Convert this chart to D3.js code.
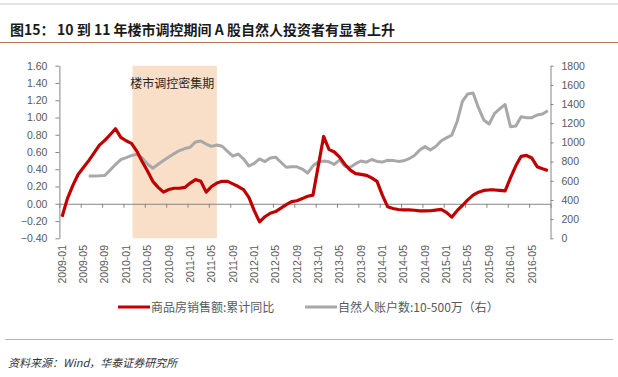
<!DOCTYPE html>
<html>
<head>
<meta charset="utf-8">
<script src="https://cdn.jsdelivr.net/npm/d3@7"></script>
<style>
  body { margin: 0; background: #fff; }
  text { font-family: "Liberation Sans", "Noto Sans CJK SC", sans-serif; }
  .cjk { font-family: "Noto Sans CJK SC", sans-serif; }
</style>
</head>
<body>
<div id="viz"></div>
<script>
// monthly categories 2009-01 .. 2016-08
const months = d3.timeMonths(new Date(2009, 0, 1), new Date(2016, 8, 1)).map(d3.timeFormat("%Y-%m"));

// 商品房销售额:累计同比 (left axis)
const salesYoY = [
  -0.15, 0.06, 0.21, 0.34, 0.42, 0.50, 0.59, 0.68, 0.735, 0.80, 0.87, 0.77,
  0.73, 0.70, 0.61, 0.49, 0.38, 0.26, 0.19, 0.135, 0.165, 0.18, 0.18, 0.19,
  0.24, 0.28, 0.26, 0.135, 0.20, 0.24, 0.26, 0.26, 0.23, 0.20, 0.165, 0.075,
  -0.08, -0.21, -0.15, -0.11, -0.09, -0.05, -0.01, 0.025, 0.035, 0.06, 0.087, 0.10,
  0.44, 0.78, 0.63, 0.60, 0.54, 0.455, 0.39, 0.35, 0.34, 0.33, 0.30, 0.26,
  0.10, -0.035, -0.055, -0.066, -0.07, -0.07, -0.075, -0.082, -0.083, -0.081, -0.073, -0.065,
  -0.10, -0.155, -0.08, -0.02, 0.045, 0.10, 0.134, 0.155, 0.16, 0.16, 0.155, 0.15,
  0.30, 0.44, 0.55, 0.56, 0.53, 0.43, 0.405, 0.385
];

// 自然人账户数:10-500万 (right axis)
const accounts = [
  null, null, null, null, null, 650, 651, 652, 655, 711, 769, 820,
  842, 862, 877, 838, 775, 731, 772, 811, 848, 883, 915, 936,
  949, 1005, 1014, 983, 959, 973, 960, 907, 858, 878, 829, 754,
  782, 828, 800, 838, 846, 793, 741, 745, 745, 722, 680, 756,
  796, 805, 798, 771, 818, 750, 742, 778, 806, 794, 822, 802,
  795, 814, 812, 802, 808, 830, 863, 920, 956, 921, 957, 1014,
  1048, 1076, 1216, 1428, 1505, 1515, 1362, 1234, 1192, 1300, 1351, 1395,
  1164, 1172, 1267, 1258, 1258, 1286, 1296, 1331
];

const leftTicks = [-0.4, -0.2, 0, 0.2, 0.4, 0.6, 0.8, 1.0, 1.2, 1.4, 1.6];
const rightTicks = [0, 200, 400, 600, 800, 1000, 1200, 1400, 1600, 1800];
const bandPeriod = ["2010-02", "2011-06"];
const bandLabel = "楼市调控密集期";
const seriesNames = ["商品房销售额:累计同比", "自然人账户数:10-500万（右）"];
const title = "10 到 11 年楼市调控期间 A 股自然人投资者有显著上升";
const source = "资料来源：Wind，华泰证券研究所";

const width = 618, height = 377;
const plot = { left: 59.4, right: 550.5, top: 65.7, bottom: 238.3 };

const svg = d3.select("#viz").append("svg")
    .attr("width", width)
    .attr("height", height);

svg.append("rect").attr("width", width).attr("height", height).attr("fill", "#fff");

// header lines + title
svg.append("line").attr("x1", 0).attr("x2", width).attr("y1", 4).attr("y2", 4)
    .attr("stroke", "#c8c8c8").attr("stroke-width", 1);
svg.append("line").attr("x1", 0).attr("x2", width).attr("y1", 42.5).attr("y2", 42.5)
    .attr("stroke", "#b9735a").attr("stroke-width", 1);
svg.append("text").attr("class", "cjk")
    .attr("x", 10).attr("y", 35)
    .attr("font-size", "14px").attr("font-weight", "bold").attr("fill", "#1a1a1a")
    .text("图15：");
svg.append("text").attr("class", "cjk")
    .attr("x", 57).attr("y", 35)
    .attr("font-size", "14px").attr("font-weight", "bold").attr("fill", "#1a1a1a")
    .text(title);

const x = d3.scaleBand()
    .domain(months)
    .range([plot.left, plot.right])
    .padding(0);
const bw = x.bandwidth();
const cx = m => x(m) + bw / 2;

const xIdx = d3.scaleLinear()
    .domain([0, months.length])
    .range([plot.left, plot.right]);

const yL = d3.scaleLinear().domain([-0.4, 1.6]).range([plot.bottom, plot.top]);
const yR = d3.scaleLinear().domain([0, 1800]).range([plot.bottom, plot.top]);

// shaded period
svg.append("rect")
    .attr("x", cx(bandPeriod[0]) + 1)
    .attr("y", plot.top)
    .attr("width", cx(bandPeriod[1]) - cx(bandPeriod[0]) - 1)
    .attr("height", plot.bottom - plot.top)
    .attr("fill", "#f9dfc7");

svg.append("text").attr("class", "cjk")
    .attr("x", (cx(bandPeriod[0]) + cx(bandPeriod[1])) / 2 - 2)
    .attr("y", 88)
    .attr("text-anchor", "middle")
    .attr("font-size", "12px")
    .attr("fill", "#262626")
    .text(bandLabel);

// axes
const axisColor = "#868686";
const labelColor = "#595959";

const gLeft = svg.append("g")
    .attr("transform", `translate(${plot.left},0)`)
    .call(d3.axisLeft(yL).tickValues(leftTicks).tickFormat(d3.format(".2f"))
        .tickSizeInner(4).tickSizeOuter(0).tickPadding(8));

const gRight = svg.append("g")
    .attr("transform", `translate(${plot.right},0)`)
    .call(d3.axisRight(yR).tickValues(rightTicks).tickFormat(d3.format("d"))
        .tickSizeInner(3).tickSizeOuter(0).tickPadding(8));

[gLeft, gRight].forEach(g => {
    g.select(".domain").attr("stroke", axisColor);
    g.selectAll(".tick line").attr("stroke", axisColor);
    g.selectAll(".tick text").attr("fill", labelColor).style("font-size", "10.5px");
});

const gZero = svg.append("g")
    .attr("transform", `translate(0,${yL(0)})`)
    .call(d3.axisBottom(xIdx).tickValues(d3.range(0, months.length + 1, 4))
        .tickFormat("").tickSizeInner(4).tickSizeOuter(0));
gZero.select(".domain").attr("stroke", axisColor);
gZero.selectAll(".tick line").attr("stroke", axisColor);

// month labels
const labelMonths = months.filter((m, i) => i % 4 === 0);
svg.append("g").selectAll("text")
    .data(labelMonths)
    .join("text")
        .attr("transform", d => `translate(${cx(d)},245) rotate(-90)`)
        .attr("text-anchor", "end")
        .attr("dy", "0.35em")
        .attr("fill", labelColor)
        .style("font-size", "10.5px")
        .text(d => d);

// lines
const grayColor = "#a8a8a8";
const redColor = "#c00000";

const grayLine = d3.line()
    .defined(d => d.v != null)
    .x(d => cx(d.m))
    .y(d => yR(d.v));

svg.append("path")
    .datum(months.map((m, i) => ({ m, v: accounts[i] })))
    .attr("fill", "none")
    .attr("stroke", grayColor)
    .attr("stroke-width", 3)
    .attr("stroke-linejoin", "round")
    .attr("d", grayLine);

const redLine = d3.line()
    .x(d => cx(d.m))
    .y(d => yL(d.v));

svg.append("path")
    .datum(months.map((m, i) => ({ m, v: salesYoY[i] })))
    .attr("fill", "none")
    .attr("stroke", redColor)
    .attr("stroke-width", 3.2)
    .attr("stroke-linejoin", "round")
    .attr("d", redLine);

// legend
const legend = [
    { name: seriesNames[0], color: redColor, x: 118 },
    { name: seriesNames[1], color: grayColor, x: 305 }
];
const gLeg = svg.selectAll(".leg")
    .data(legend)
    .join("g")
        .attr("class", "leg")
        .attr("transform", d => `translate(${d.x},307)`);
gLeg.append("line")
    .attr("x1", 0).attr("x2", 32)
    .attr("stroke", d => d.color)
    .attr("stroke-width", 3);
gLeg.append("text").attr("class", "cjk")
    .attr("x", 33).attr("y", 4.5)
    .attr("font-size", "12px")
    .attr("fill", labelColor)
    .text(d => d.name);

// footer
svg.append("line").attr("x1", 5).attr("x2", 613).attr("y1", 339.5).attr("y2", 339.5)
    .attr("stroke", "#b4b4b4").attr("stroke-width", 1.2);
svg.append("text").attr("class", "cjk")
    .attr("x", 8).attr("y", 367)
    .attr("font-size", "11px")
    .attr("font-style", "italic")
    .attr("fill", "#333")
    .text(source);
</script>
</body>
</html>
